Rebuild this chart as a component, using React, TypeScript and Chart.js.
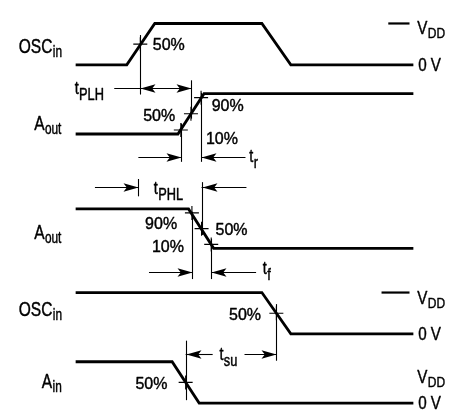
import { useEffect, useRef } from "react";
import { Chart, registerables } from "chart.js";

Chart.register(...registerables);

// ---- waveform data: time (arbitrary units) and logic level (0 = 0 V, 1 = VDD)
const OSC_TOP_TIMES = [70, 123, 152, 263, 293, 420];
const OSC_TOP_LEVELS = [0, 0, 1, 1, 0, 0];
const AOUT_RISE_TIMES = [70, 176, 203, 420];
const AOUT_RISE_LEVELS = [0, 0, 1, 1];
const AOUT_FALL_TIMES = [70, 187, 213, 420];
const AOUT_FALL_LEVELS = [1, 1, 0, 0];
const OSC_BOTTOM_TIMES = [70, 263, 293, 420];
const OSC_BOTTOM_LEVELS = [1, 1, 0, 0];
const AIN_TIMES = [70, 170, 198, 420];
const AIN_LEVELS = [1, 1, 0, 0];

// ---- threshold crossing marks
const MARK_ROWS = [0, 1, 1, 1, 2, 2, 2, 3, 4];
const MARK_TIMES = [137, 179, 189.5, 200, 190.5, 200.5, 210.5, 278, 184];
const MARK_LEVELS = [0.5, 0.1, 0.5, 0.9, 0.9, 0.5, 0.1, 0.5, 0.5];

// ---- text
const SIGNAL_NAMES = ["OSC", "A", "A", "OSC", "A"];
const SIGNAL_SUBS = ["in", "out", "out", "in", "in"];
const TIMING_SUBS = ["PLH", "r", "PHL", "f", "su"];
const PERCENT_TEXT = ["50%", "50%", "90%", "10%", "90%", "10%", "50%", "50%", "50%"];
const VDD_ROWS = [0, 3, 4];
const ZERO_ROWS = [0, 3, 4];

// ---- layout (pixel anchors of each row and annotation geometry in row-level units)
const W = 462;
const H = 415;
const ROW_ZERO_PX = [59, 131, 250, 339, 411];
const ROW_SWING_PX = [43, 42, 41, 43, 43];

const SIGNAL_LABEL_POS: [number, number, number][] = [
  [0, 0.28, 11],
  [1, 0.1, 27],
  [2, 0.24, 27],
  [3, 0.44, 11],
  [4, 0.37, 35],
];
const TIMING_LABEL_POS: [number, number, number][] = [
  [0, -0.7, 69],
  [1, -0.69, 250],
  [2, 1.37, 151],
  [2, -0.66, 264],
  [3, -0.63, 219],
];
const PERCENT_POS: [number, number, number][] = [
  [0, 0.37, 150],
  [1, 0.33, 140],
  [1, 0.57, 211],
  [1, -0.24, 205],
  [2, 0.49, 142],
  [2, -0.1, 149],
  [2, 0.34, 215],
  [3, 0.33, 229],
  [4, 0.33, 132],
];
const VDD_POS: [number, number][] = [
  [0.74, 424],
  [0.72, 424],
  [0.49, 424],
];
const ZERO_POS: [number, number][] = [
  [-0.14, 425],
  [-0.14, 425],
  [-0.14, 425],
];
const VDD_DASHES: [number, number, number, number][] = [
  [0, 1, 394, 416],
  [3, 1, 387, 416],
];
const V_LINES: [number, number, number, number][] = [
  [137, 0, 0.72, -0.72],
  [189.5, 1, 1.33, 0.38],
  [179, 1, 0.26, -0.69],
  [200, 1, 1.02, -0.69],
  [135, 2, 1.76, 1.32],
  [200.5, 2, 1.68, 0.34],
  [190.5, 2, 0.93, -0.78],
  [210.5, 2, 0.24, -0.78],
  [278, 3, 0.72, -0.65],
  [184, 4, 1.51, 0.07],
];
const H_LINES: [number, number, number, number][] = [
  [0, -0.56, 110, 189.5],
  [1, -0.57, 135, 179],
  [1, -0.57, 200, 246],
  [2, 1.56, 90, 135],
  [2, 1.56, 200.5, 247],
  [2, -0.61, 146, 190.5],
  [2, -0.61, 210.5, 257],
  [3, -0.49, 184, 212],
  [3, -0.49, 245, 278],
];
const HEADS: [number, number, number, number][] = [
  [0, -0.56, 137, -1],
  [0, -0.56, 189.5, 1],
  [1, -0.57, 179, 1],
  [1, -0.57, 200, -1],
  [2, 1.56, 135, 1],
  [2, 1.56, 200.5, -1],
  [2, -0.61, 190.5, 1],
  [2, -0.61, 210.5, -1],
  [3, -0.49, 184, -1],
  [3, -0.49, 278, 1],
];

const FONT = '"Liberation Sans", Arial, Helvetica, sans-serif';

type Style = { size: number; sub: number; dy: number; sx: number };
const NAME_STYLE: Style = { size: 21, sub: 16, dy: 4, sx: 0.74 };
const VOLT_STYLE: Style = { size: 19, sub: 15, dy: 4, sx: 0.8 };
const T_STYLE: Style = { size: 18, sub: 16, dy: 6, sx: 0.8 };
const PCT_STYLE: Style = { size: 17, sub: 12, dy: 0, sx: 0.94 };

export default function App() {
  const ref = useRef<HTMLCanvasElement>(null);

  useEffect(() => {
    const canvas = ref.current;
    if (!canvas) return;

    const scales: any = {
      x: { type: "linear", display: false, min: 0, max: W, bounds: "data", grace: 0 },
    };
    ROW_ZERO_PX.forEach((p0, i) => {
      const s = ROW_SWING_PX[i];
      const max = p0 / s;
      scales["y" + i] = {
        type: "linear",
        display: false,
        min: max - H / s,
        max,
        bounds: "data",
        grace: 0,
      };
    });

    const waves: [number[], number[]][] = [
      [OSC_TOP_TIMES, OSC_TOP_LEVELS],
      [AOUT_RISE_TIMES, AOUT_RISE_LEVELS],
      [AOUT_FALL_TIMES, AOUT_FALL_LEVELS],
      [OSC_BOTTOM_TIMES, OSC_BOTTOM_LEVELS],
      [AIN_TIMES, AIN_LEVELS],
    ];
    const datasets: any[] = waves.map(([t, l], i) => ({
      data: t.map((x, k) => ({ x, y: l[k] })),
      yAxisID: "y" + i,
      showLine: true,
      borderColor: "#000",
      backgroundColor: "#000",
      borderWidth: 2.8,
      pointRadius: 0,
      tension: 0,
      borderJoinStyle: "miter",
      borderCapStyle: "butt",
      clip: false,
    }));
    ROW_ZERO_PX.forEach((_, r) => {
      const pts: { x: number; y: number }[] = [];
      MARK_ROWS.forEach((row, k) => {
        if (row === r) pts.push({ x: MARK_TIMES[k], y: MARK_LEVELS[k] });
      });
      datasets.push({
        data: pts,
        yAxisID: "y" + r,
        showLine: false,
        pointStyle: "cross",
        pointRadius: 7,
        pointBorderWidth: 1.1,
        borderColor: "#000",
        backgroundColor: "#000",
        clip: false,
      });
    });
    VDD_DASHES.forEach(([row, lv, t1, t2]) => {
      datasets.push({
        data: [
          { x: t1, y: lv },
          { x: t2, y: lv },
        ],
        yAxisID: "y" + row,
        showLine: true,
        borderColor: "#000",
        borderWidth: 2.2,
        pointRadius: 0,
        clip: false,
      });
    });

    const annot = {
      id: "timingAnnotations",
      afterDatasetsDraw(chart: any) {
        const ctx: CanvasRenderingContext2D = chart.ctx;
        const px = (t: number) => chart.scales.x.getPixelForValue(t);
        const py = (row: number, lv: number) => chart.scales["y" + row].getPixelForValue(lv);
        ctx.save();
        ctx.strokeStyle = "#000";
        ctx.fillStyle = "#000";
        ctx.lineWidth = 1.1;
        ctx.lineCap = "butt";
        V_LINES.forEach(([t, row, l1, l2]) => {
          const x = Math.round(px(t)) + 0.5;
          ctx.beginPath();
          ctx.moveTo(x, py(row, l1));
          ctx.lineTo(x, py(row, l2));
          ctx.stroke();
        });
        H_LINES.forEach(([row, lv, t1, t2]) => {
          const y = Math.round(py(row, lv)) + 0.5;
          ctx.beginPath();
          ctx.moveTo(px(t1), y);
          ctx.lineTo(px(t2), y);
          ctx.stroke();
        });
        HEADS.forEach(([row, lv, t, dir]) => {
          const x = Math.round(px(t)) + 0.5;
          const y = Math.round(py(row, lv)) + 0.5;
          const len = 15;
          const hw = 4.2;
          ctx.beginPath();
          ctx.moveTo(x, y);
          ctx.lineTo(x - dir * len, y - hw);
          ctx.lineTo(x - dir * len * 0.78, y);
          ctx.lineTo(x - dir * len, y + hw);
          ctx.closePath();
          ctx.fill();
        });

        const text = (main: string, sub: string, x: number, y: number, st: Style) => {
          ctx.save();
          ctx.translate(x, y);
          ctx.scale(st.sx, 1);
          ctx.font = `${st.size}px ${FONT}`;
          ctx.textBaseline = "alphabetic";
          ctx.textAlign = "left";
          ctx.lineWidth = 0.45;
          ctx.lineJoin = "round";
          ctx.fillText(main, 0, 0);
          ctx.strokeText(main, 0, 0);
          const w = ctx.measureText(main).width;
          if (sub) {
            ctx.font = `${st.sub}px ${FONT}`;
            ctx.fillText(sub, w + 0.5, st.dy);
            ctx.strokeText(sub, w + 0.5, st.dy);
          }
          ctx.restore();
        };

        SIGNAL_LABEL_POS.forEach(([row, lv, t], i) =>
          text(SIGNAL_NAMES[i], SIGNAL_SUBS[i], px(t), py(row, lv), NAME_STYLE)
        );
        TIMING_LABEL_POS.forEach(([row, lv, t], i) =>
          text("t", TIMING_SUBS[i], px(t), py(row, lv), T_STYLE)
        );
        PERCENT_POS.forEach(([row, lv, t], i) =>
          text(PERCENT_TEXT[i], "", px(t), py(row, lv), PCT_STYLE)
        );
        VDD_ROWS.forEach((row, i) =>
          text("V", "DD", px(VDD_POS[i][1]), py(row, VDD_POS[i][0]), VOLT_STYLE)
        );
        ZERO_ROWS.forEach((row, i) =>
          text("0 V", "", px(ZERO_POS[i][1]), py(row, ZERO_POS[i][0]), VOLT_STYLE)
        );
        ctx.restore();
      },
    };

    const chart = new Chart(canvas, {
      type: "scatter",
      data: { datasets },
      options: {
        animation: false,
        responsive: false,
        events: [],
        layout: { padding: 0 },
        plugins: { legend: { display: false }, tooltip: { enabled: false }, title: { display: false } },
        scales,
      } as any,
      plugins: [annot],
    });
    return () => chart.destroy();
  }, []);

  return (
    <div style={{ position: "fixed", left: 0, top: 0, width: W, height: H, background: "#fff" }}>
      <canvas ref={ref} width={W} height={H} style={{ width: W, height: H, display: "block" }} />
    </div>
  );
}
